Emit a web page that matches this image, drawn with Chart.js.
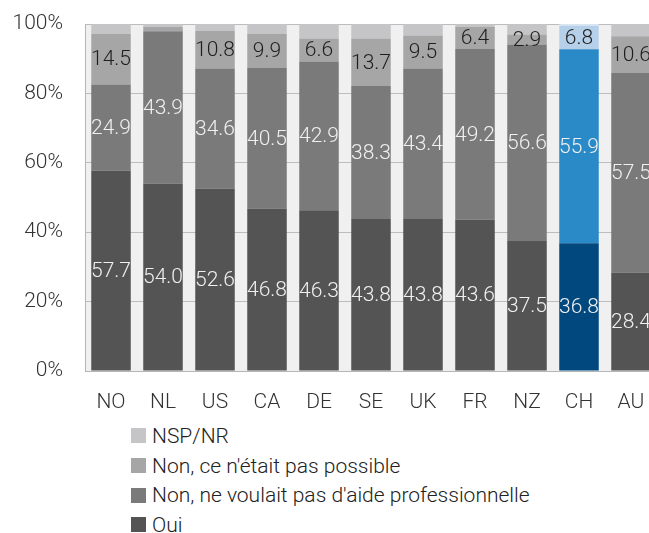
<!DOCTYPE html>
<html><head><meta charset="utf-8">
<script src="https://cdn.jsdelivr.net/npm/chart.js@4"></script>
<style>
html,body{margin:0;padding:0;background:#fff;overflow:hidden;width:649px;height:533px;}
#wrap{position:absolute;left:0;top:0;width:660px;height:421px;}
#legend{position:absolute;left:131px;top:421px;font-family:Roboto,"Noto Sans",sans-serif;font-weight:300;font-size:21px;color:#222;}
.li{height:29.7px;display:flex;align-items:center;white-space:nowrap;}
.sw{width:15px;height:15px;margin-right:6px;display:inline-block;}
</style></head>
<body>
<div id="wrap"><canvas id="c" width="660" height="421"></canvas></div>
<div id="legend"></div>
<script>
const categories = ["NO","NL","US","CA","DE","SE","UK","FR","NZ","CH","AU"];
const seriesNames = ["Oui","Non, ne voulait pas d'aide professionnelle","Non, ce n'était pas possible","NSP/NR"];
const oui        = [57.7,54.0,52.6,46.8,46.3,43.8,43.8,43.6,37.5,36.8,28.4];
const nonVoulait = [24.9,43.9,34.6,40.5,42.9,38.3,43.4,49.2,56.6,55.9,57.5];
const nonPossible= [14.5,1.2,10.8,9.9,6.6,13.7,9.5,6.4,2.9,6.8,10.6];
const nspNr      = [2.9,0.9,2.0,2.8,4.2,4.2,3.3,0.8,3.0,0.5,3.5];
const yTicks = ["0%","20%","40%","60%","80%","100%"];
const highlight = "CH";

const grayColors = ["#545455","#7a7a7b","#a6a6a7","#c5c5c7"];
const blueColors = ["#00487e","#2a8ac8","#b7d0ea","#d8e6f4"];
const labelColors = ["#f0f0f0","#f0f0f0","#1e1e1e",null];
const allSeries = [oui,nonVoulait,nonPossible,nspNr];

const datasets = allSeries.map((vals,i)=>({
  label: seriesNames[i],
  data: vals,
  backgroundColor: categories.map(c => c===highlight ? blueColors[i] : grayColors[i]),
  borderWidth: 0,
  barPercentage: 0.76,
  categoryPercentage: 1.0
}));

const FONT = "Roboto, 'Noto Sans', sans-serif";
const FS = 21;

const bgPlugin = {
  id:'bg',
  beforeDraw(chart){
    const {ctx, chartArea:a} = chart;
    ctx.save(); ctx.fillStyle="#f0f0f0";
    ctx.fillRect(a.left,a.top,a.right-a.left,a.bottom-a.top);
    ctx.restore();
  }
};
const labelPlugin = {
  id:'lbl',
  afterDatasetsDraw(chart){
    const ctx = chart.ctx;
    ctx.save();
    ctx.font = "300 " + FS + "px " + FONT;
    ctx.textAlign="center"; ctx.textBaseline="middle";
    chart.data.datasets.forEach((ds,di)=>{
      if(!labelColors[di]) return;
      const meta = chart.getDatasetMeta(di);
      meta.data.forEach((el,j)=>{
        const v = ds.data[j];
        if(v < 2) return;
        const yc = (el.y + el.base)/2;
        ctx.fillStyle = labelColors[di];
        ctx.fillText(v.toFixed(1), el.x, yc+1);
      });
    });
    ctx.restore();
  }
};

new Chart(document.getElementById('c'),{
  type:'bar',
  data:{labels:categories, datasets},
  options:{
    responsive:false, animation:false,
    layout:{padding:{top:24,right:3,left:0,bottom:0}},
    plugins:{legend:{display:false},tooltip:{enabled:false}},
    scales:{
      x:{stacked:true,
         grid:{display:false, drawTicks:false},
         border:{display:true,color:"#b5b5b5"},
         ticks:{padding:19,color:"#333",font:{family:FONT,size:FS,weight:300}},
         afterFit(s){s.height=50; s.paddingLeft=0; s.paddingRight=0;}
      },
      y:{stacked:true,min:0,max:100,
         grid:{color:"#bcbcbc",drawTicks:false,lineWidth:1},
         border:{display:true,color:"#b5b5b5"},
         ticks:{stepSize:20,padding:22,color:"#333",font:{family:FONT,size:FS,weight:300},
                callback:(v,i)=>yTicks[i]},
         afterFit(s){s.width=85; s.paddingTop=0; s.paddingBottom=0;}
      }
    }
  },
  plugins:[bgPlugin,labelPlugin]
});

const leg = document.getElementById('legend');
[3,2,1,0].forEach(i=>{
  const d=document.createElement('div'); d.className='li';
  d.innerHTML='<span class="sw" style="background:'+grayColors[i]+'"></span>'+seriesNames[i].replace(/</g,'&lt;');
  leg.appendChild(d);
});
</script>
</body></html>
